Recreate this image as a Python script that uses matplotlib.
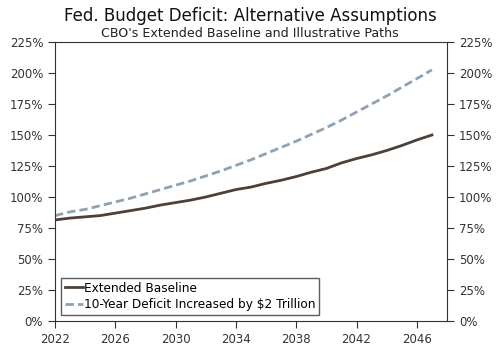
import matplotlib
matplotlib.use("Agg")
import matplotlib.pyplot as plt
from matplotlib.ticker import FuncFormatter

years = list(range(2022, 2048))
baseline = [81.5, 83, 84, 85, 87, 89, 91, 93.5, 95.5, 97.5, 100, 103, 106, 108, 111,
            113.5, 116.5, 120, 123, 127.5, 131, 134, 137.5, 141.5, 146, 150]
increased = [85, 88, 90, 93, 96, 99, 102.5, 106, 109.5, 113, 117, 121, 125.5, 130, 135,
             140, 145, 150.5, 156, 162, 168.5, 175, 181.5, 188.5, 195.5, 202.5]
xticks = [2022, 2026, 2030, 2034, 2038, 2042, 2046]
yticks = [0, 25, 50, 75, 100, 125, 150, 175, 200, 225]

plt.rcParams['font.family'] = ['DejaVu Sans']
fig = plt.figure(figsize=(5, 3.51), dpi=100)
ax = fig.add_axes([55/500, 30/351, 392/500, 279/351])

ax.plot(years, baseline, color='#4e4038', lw=2, label='Extended Baseline')
ax.plot(years, increased, color='#8ea2b4', lw=2, ls=(0, (3, 1.5)),
        label='10-Year Deficit Increased by $2 Trillion')

ax.set_xlim(2022, 2048)
ax.set_ylim(0, 225)
ax.set_xticks(xticks)
ax.set_yticks(yticks)
ax.yaxis.set_major_formatter(FuncFormatter(lambda v, p: f"{int(v)}%"))
ax.tick_params(axis='both', direction='out', length=5, labelsize=8.5, colors='#333333')
ax.tick_params(axis='y', right=True, labelright=True)
for s in ax.spines.values():
    s.set_color('#333333')

leg = ax.legend(loc='lower left', fontsize=8.7, frameon=True, fancybox=False,
                edgecolor='#333333', handlelength=1.5, handletextpad=0.1,
                borderpad=0.3, labelspacing=0.3, borderaxespad=0.5)
leg.get_frame().set_linewidth(1)

fig.text(0.5, 0.955, 'Fed. Budget Deficit: Alternative Assumptions', ha='center', va='center',
         fontsize=12, color='#111111')
fig.text(0.5, 0.905, "CBO's Extended Baseline and Illustrative Paths", ha='center', va='center',
         fontsize=9.1, color='#222222')

fig.savefig('out.png', dpi=100)
